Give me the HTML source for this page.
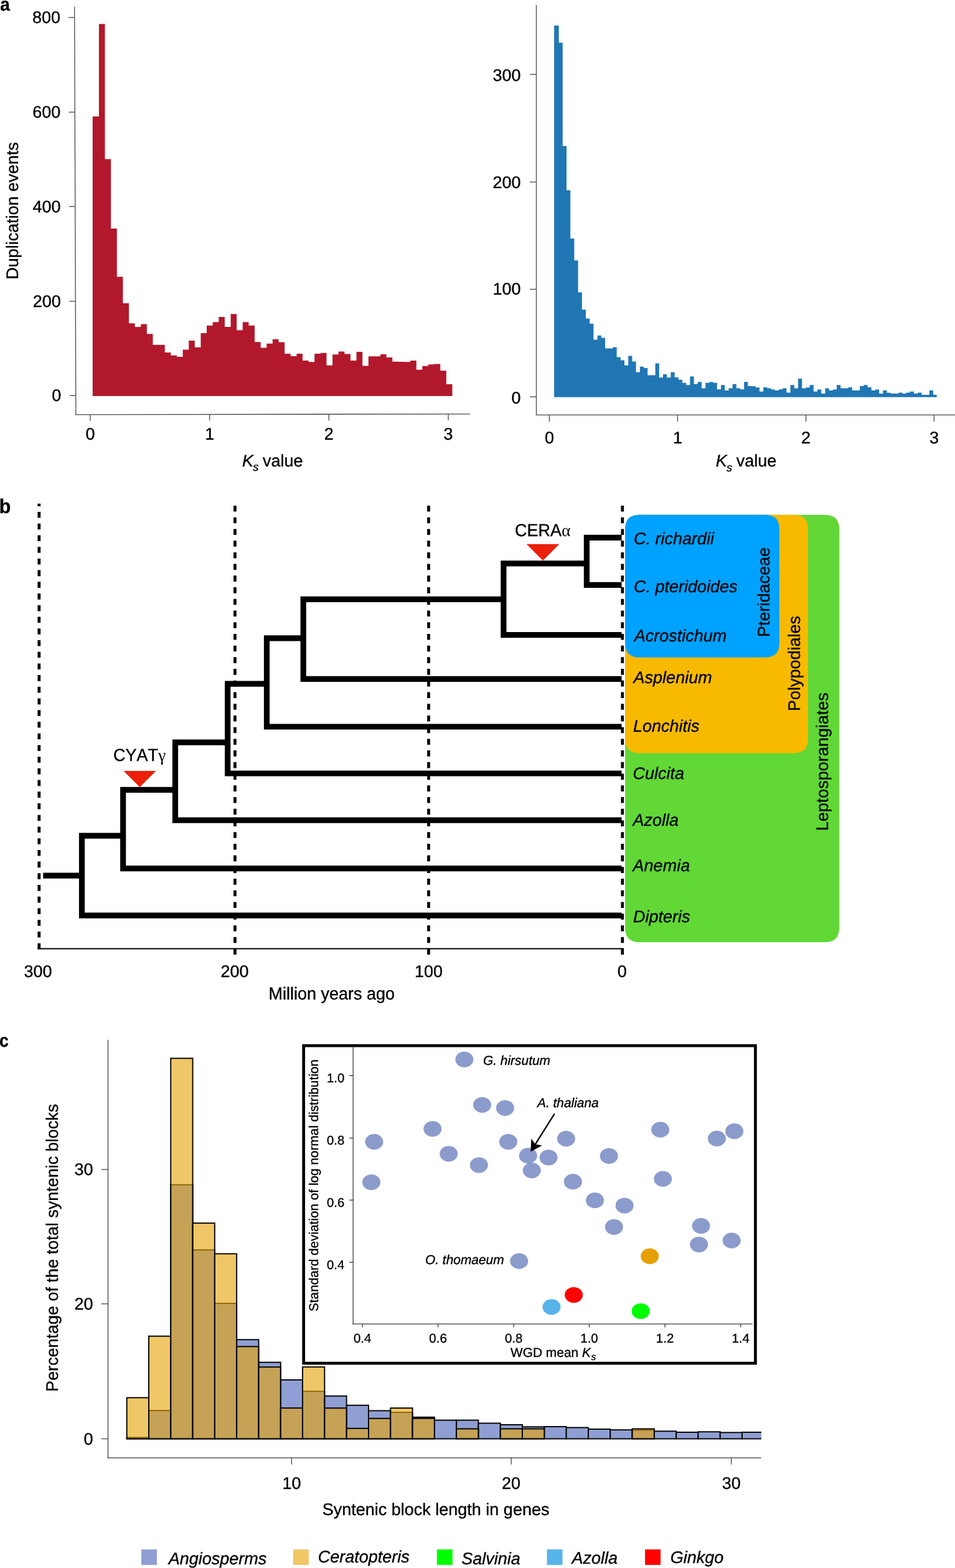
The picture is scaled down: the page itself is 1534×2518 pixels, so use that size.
<!DOCTYPE html>
<html lang="en">
<head>
<meta charset="utf-8">
<title>Figure: Ks distributions, fern phylogeny and syntenic block lengths</title>
<style>
html,body{margin:0;padding:0;background:#fff;}
body{width:1534px;height:2518px;overflow:hidden;}
svg{display:block;}
svg text{font-family:"Liberation Sans", sans-serif;fill:#000;stroke:#000;stroke-width:0.35px;stroke-linejoin:round;font-kerning:none;text-rendering:geometricPrecision;}
</style>
</head>
<body>
<svg width="1534" height="2518" viewBox="0 0 1534 2518">
<rect x="0" y="0" width="1534" height="2518" fill="#fff"/>
<text transform="translate(0.3 17.2) scale(0.95 1)" font-size="29.6" font-weight="bold" stroke-width="0.5">a</text>
<text transform="translate(-1.2 824.4) scale(0.95 1)" font-size="32" font-weight="bold" stroke-width="0.5">b</text>
<text transform="translate(-1.0 1680.9) scale(0.9 1)" font-size="29.6" font-weight="bold" stroke-width="0.5">c</text>
<path d="M148.80 635.90V187.10H158.92V38.40H168.54V255.50H178.16V367.10H187.78V444.50H197.40V486.90H207.02V519.30H216.64V524.90H226.26V520.40H235.88V536.30H245.50V553.70H255.12V553.70H264.74V565.90H274.36V570.70H283.98V573.00H293.60V561.60H303.22V546.90H312.84V557.80H322.46V535.10H332.08V522.70H341.70V517.20H351.32V509.10H360.94V524.90H370.56V504.30H380.18V530.20H389.80V517.20H399.42V522.70H409.04V549.20H418.66V558.50H428.28V551.70H437.90V544.70H447.52V549.40H457.14V568.00H466.76V572.10H476.38V568.00H486.00V578.90H495.62V581.30H505.24V568.00H514.86V566.80H524.48V586.80H534.10V569.30H543.72V564.60H553.34V568.40H562.96V578.90H572.58V565.00H582.20V587.50H591.82V572.30H601.44V572.30H611.06V569.10H620.68V573.90H630.30V580.70H639.92V580.90H649.54V581.30H659.16V579.10H668.78V593.80H678.40V587.70H688.02V585.20H697.64V584.50H707.26V595.20H716.88V617.10H726.50V635.90Z" fill="#B2182B"/>
<line x1="119.70" y1="11.00" x2="121.85" y2="666.30" stroke="#484848" stroke-width="1.3" />
<line x1="121.20" y1="665.80" x2="755.00" y2="664.90" stroke="#484848" stroke-width="1.3" />
<line x1="109.86" y1="28.10" x2="119.76" y2="28.10" stroke="#484848" stroke-width="1.3" />
<text transform="translate(97.00 37.00) scale(1 1)" font-size="27.0" text-anchor="end" >800</text>
<line x1="110.36" y1="180.10" x2="120.26" y2="180.10" stroke="#484848" stroke-width="1.3" />
<text transform="translate(97.30 189.00) scale(1 1)" font-size="27.0" text-anchor="end" >600</text>
<line x1="110.85" y1="331.60" x2="120.75" y2="331.60" stroke="#484848" stroke-width="1.3" />
<text transform="translate(97.60 340.50) scale(1 1)" font-size="27.0" text-anchor="end" >400</text>
<line x1="111.35" y1="483.90" x2="121.25" y2="483.90" stroke="#484848" stroke-width="1.3" />
<text transform="translate(97.90 492.80) scale(1 1)" font-size="27.0" text-anchor="end" >200</text>
<line x1="111.85" y1="635.30" x2="121.75" y2="635.30" stroke="#484848" stroke-width="1.3" />
<text transform="translate(98.20 644.20) scale(1 1)" font-size="27.0" text-anchor="end" >0</text>
<line x1="145.00" y1="665.77" x2="145.00" y2="675.77" stroke="#484848" stroke-width="1.3" />
<text transform="translate(145.00 706.20) scale(1 1)" font-size="27.0" text-anchor="middle" >0</text>
<line x1="336.70" y1="665.49" x2="336.70" y2="675.49" stroke="#484848" stroke-width="1.3" />
<text transform="translate(336.70 706.20) scale(1 1)" font-size="27.0" text-anchor="middle" >1</text>
<line x1="528.30" y1="665.22" x2="528.30" y2="675.22" stroke="#484848" stroke-width="1.3" />
<text transform="translate(528.30 706.20) scale(1 1)" font-size="27.0" text-anchor="middle" >2</text>
<line x1="720.10" y1="664.95" x2="720.10" y2="674.95" stroke="#484848" stroke-width="1.3" />
<text transform="translate(720.10 706.20) scale(1 1)" font-size="27.0" text-anchor="middle" >3</text>
<text transform="translate(388.90 748.50)" font-size="27.0"><tspan font-style="italic">K</tspan><tspan font-style="italic" font-size="18.3" dy="7.2" dx="-0.6">s</tspan><tspan dy="-7.2" dx="-1.0"> value</tspan></text>
<text transform="translate(28.50 448.80) rotate(-90) scale(1 1.0)" font-size="27.0" >Duplication events</text>
<path d="M890.10 637.70V41.00H897.60V68.60H903.80V234.50H910.00V305.40H916.20V383.10H922.40V418.20H928.60V469.40H934.80V497.30H941.00V511.40H947.20V519.70H953.40V545.60H959.60V538.80H965.80V542.40H972.00V559.60H978.20V559.60H984.40V557.60H990.60V573.60H996.80V578.60H1003.00V586.80H1009.20V571.40H1015.40V580.40H1021.60V597.70H1027.80V588.80H1034.00V590.90H1040.20V602.60H1046.40V602.60H1052.60V583.60H1058.80V606.30H1065.00V601.10H1071.20V606.30H1077.40V597.80H1083.60V606.00H1089.80V609.70H1096.00V614.80H1102.20V618.30H1108.40V604.40H1114.60V616.70H1120.80V613.20H1127.00V623.60H1133.20V614.80H1139.40V613.40H1145.60V614.80H1151.80V625.20H1158.00V618.30H1164.20V627.10H1170.40V623.60H1176.60V616.70H1182.80V623.60H1189.00V625.20H1195.20V613.20H1201.40V619.90H1207.60V620.20H1213.80V622.30H1220.00V628.70H1226.20V622.00H1232.40V623.60H1238.60V625.40H1244.80V627.10H1251.00V625.20H1257.20V623.60H1263.40V630.50H1269.60V618.30H1275.80V623.60H1282.00V608.10H1288.20V623.60H1294.40V622.20H1300.60V618.30H1306.80V628.70H1313.00V625.40H1319.20V632.10H1325.40V623.60H1331.60V627.10H1337.80V625.40H1344.00V618.30H1350.20V623.60H1356.40V623.60H1362.60V622.00H1368.80V627.10H1375.00V627.10H1381.20V619.90H1387.40V618.30H1393.60V622.00H1399.80V627.10H1406.00V625.40H1412.20V632.10H1418.40V627.10H1424.60V630.80H1430.80V632.10H1437.00V632.10H1443.20V630.50H1449.40V632.10H1455.60V630.50H1461.80V628.70H1468.00V632.10H1474.20V630.50H1480.40V634.00H1486.60V634.00H1492.80V627.10H1499.00V634.00H1504.60V637.70Z" fill="#2077B4"/>
<line x1="861.50" y1="7.90" x2="861.50" y2="666.90" stroke="#484848" stroke-width="1.3" />
<line x1="861.00" y1="666.40" x2="1534.00" y2="666.40" stroke="#484848" stroke-width="1.3" />
<line x1="851.10" y1="119.50" x2="861.50" y2="119.50" stroke="#484848" stroke-width="1.3" />
<text transform="translate(836.50 130.10) scale(1 1)" font-size="27.0" text-anchor="end" >300</text>
<line x1="851.10" y1="292.40" x2="861.50" y2="292.40" stroke="#484848" stroke-width="1.3" />
<text transform="translate(836.50 301.50) scale(1 1)" font-size="27.0" text-anchor="end" >200</text>
<line x1="851.10" y1="464.50" x2="861.50" y2="464.50" stroke="#484848" stroke-width="1.3" />
<text transform="translate(836.50 473.10) scale(1 1)" font-size="27.0" text-anchor="end" >100</text>
<line x1="851.10" y1="637.30" x2="861.50" y2="637.30" stroke="#484848" stroke-width="1.3" />
<text transform="translate(836.50 647.50) scale(1 1)" font-size="27.0" text-anchor="end" >0</text>
<line x1="882.40" y1="666.40" x2="882.40" y2="677.00" stroke="#484848" stroke-width="1.3" />
<text transform="translate(882.40 711.50) scale(1 1)" font-size="27.0" text-anchor="middle" >0</text>
<line x1="1088.40" y1="666.40" x2="1088.40" y2="677.00" stroke="#484848" stroke-width="1.3" />
<text transform="translate(1088.40 711.50) scale(1 1)" font-size="27.0" text-anchor="middle" >1</text>
<line x1="1294.60" y1="666.40" x2="1294.60" y2="677.00" stroke="#484848" stroke-width="1.3" />
<text transform="translate(1294.60 711.50) scale(1 1)" font-size="27.0" text-anchor="middle" >2</text>
<line x1="1500.40" y1="666.40" x2="1500.40" y2="677.00" stroke="#484848" stroke-width="1.3" />
<text transform="translate(1500.40 711.50) scale(1 1)" font-size="27.0" text-anchor="middle" >3</text>
<text transform="translate(1149.70 749.30)" font-size="27.0"><tspan font-style="italic">K</tspan><tspan font-style="italic" font-size="18.3" dy="7.2" dx="-0.6">s</tspan><tspan dy="-7.2" dx="-1.0"> value</tspan></text>
<path d="M1029.10 826.70H1323.10C1341.10 826.70 1348.10 833.70 1348.10 851.70V1488.10C1348.10 1506.10 1341.10 1513.10 1323.10 1513.10H1029.10C1011.10 1513.10 1004.10 1506.10 1004.10 1488.10V851.70C1004.10 833.70 1011.10 826.70 1029.10 826.70Z" fill="#61D836"/>
<path d="M1029.10 826.70H1272.90C1290.90 826.70 1297.90 833.70 1297.90 851.70V1184.60C1297.90 1202.60 1290.90 1209.60 1272.90 1209.60H1029.10C1011.10 1209.60 1004.10 1202.60 1004.10 1184.60V851.70C1004.10 833.70 1011.10 826.70 1029.10 826.70Z" fill="#F8BA00"/>
<path d="M1029.10 826.70H1226.90C1244.90 826.70 1251.90 833.70 1251.90 851.70V1030.80C1251.90 1048.80 1244.90 1055.80 1226.90 1055.80H1029.10C1011.10 1055.80 1004.10 1048.80 1004.10 1030.80V851.70C1004.10 833.70 1011.10 826.70 1029.10 826.70Z" fill="#00A2FF"/>
<path d="M942.40 863.40H998.50M942.40 939.30H998.50M942.40 858.80V943.90M808.90 904.80H942.40M808.90 1019.70H998.50M808.90 900.20V1024.30M487.20 962.30H808.90M487.20 1090.40H998.50M487.20 957.70V1095.00M428.50 1024.80H487.20M428.50 1167.00H998.50M428.50 1020.20V1171.60M365.70 1098.20H428.50M365.70 1242.00H998.50M365.70 1093.60V1246.60M281.50 1192.20H365.70M281.50 1317.20H998.50M281.50 1187.60V1321.80M197.70 1268.40H281.50M197.70 1394.60H998.50M197.70 1263.80V1399.20M131.50 1342.20H197.70M131.50 1470.20H998.50M131.50 1337.60V1474.80M69.30 1406.20H131.50" fill="none" stroke="#000" stroke-width="9.2"/>
<line x1="62.8" y1="808.7" x2="62.8" y2="1524.5" stroke="#000" stroke-width="4.7" stroke-dasharray="9.6 9.12" stroke-dashoffset="5.4"/>
<line x1="377.45" y1="812.0" x2="377.45" y2="1533.0" stroke="#000" stroke-width="4.7" stroke-dasharray="9.6 9.12" stroke-dashoffset="0"/>
<line x1="688.5" y1="812.0" x2="688.5" y2="1533.0" stroke="#000" stroke-width="4.7" stroke-dasharray="9.6 9.12" stroke-dashoffset="0"/>
<line x1="999.8" y1="812.0" x2="999.8" y2="1533.0" stroke="#000" stroke-width="4.7" stroke-dasharray="9.6 9.12" stroke-dashoffset="0"/>
<line x1="60.60" y1="1523.60" x2="1001.90" y2="1523.60" stroke="#000" stroke-width="2" />
<text transform="translate(61.00 1569.40) scale(1 1)" font-size="27.0" text-anchor="middle" >300</text>
<text transform="translate(377.10 1569.40) scale(1 1)" font-size="27.0" text-anchor="middle" >200</text>
<text transform="translate(688.50 1569.40) scale(1 1)" font-size="27.0" text-anchor="middle" >100</text>
<text transform="translate(999.30 1569.40) scale(1 1)" font-size="27.0" text-anchor="middle" >0</text>
<text transform="translate(431.50 1605.20) scale(1 1.03)" font-size="27.0" >Million years ago</text>
<polygon points="845.7,873.8 898.4,873.8 872.1,900.2" fill="#EA200B"/>
<polygon points="198.5,1237.9 250.5,1237.9 224.5,1263.9" fill="#EA200B"/>
<text transform="translate(827.0 860.6) scale(1 1.04)" font-size="27.0">CERA<tspan font-family="'Liberation Serif', serif" font-size="27" dx="0.3" stroke="none">α</tspan></text>
<text transform="translate(182.0 1221.8) scale(1 1.04)" font-size="27.0">CYAT<tspan font-family="'Liberation Serif', serif" font-size="27" dx="0.3" stroke="none">γ</tspan></text>
<text transform="translate(1018.00 874.20) scale(1 1.0)" font-size="27.0" font-style="italic" >C. richardii</text>
<text transform="translate(1018.00 951.10) scale(1 1.0)" font-size="27.0" font-style="italic" >C. pteridoides</text>
<text transform="translate(1018.70 1029.70) scale(1 1.0)" font-size="27.0" font-style="italic" >Acrostichum</text>
<text transform="translate(1017.60 1097.40) scale(1 1.0)" font-size="27.0" font-style="italic" >Asplenium</text>
<text transform="translate(1017.00 1174.90) scale(1 1.0)" font-size="27.0" font-style="italic" >Lonchitis</text>
<text transform="translate(1016.60 1251.10) scale(1 1.0)" font-size="27.0" font-style="italic" >Culcita</text>
<text transform="translate(1016.60 1326.30) scale(1 1.0)" font-size="27.0" font-style="italic" >Azolla</text>
<text transform="translate(1016.60 1398.80) scale(1 1.0)" font-size="27.0" font-style="italic" >Anemia</text>
<text transform="translate(1017.00 1481.30) scale(1 1.0)" font-size="27.0" font-style="italic" >Dipteris</text>
<text transform="translate(1236.20 1023.00) rotate(-90) scale(1 1.0)" font-size="27.0" >Pteridaceae</text>
<text transform="translate(1284.60 1142.10) rotate(-90) scale(1 1.0)" font-size="27.0" >Polypodiales</text>
<text transform="translate(1330.30 1334.30) rotate(-90) scale(1 1.0)" font-size="27.0" >Leptosporangiates</text>
<clipPath id="cc"><rect x="170" y="1660" width="1053.0" height="700"/></clipPath>
<g clip-path="url(#cc)">
<rect x="203.65" y="2308.40" width="35.30" height="2.10" fill="#8F9FD3" stroke="#000" stroke-width="1.9"/>
<rect x="238.95" y="2265.20" width="35.30" height="45.30" fill="#8F9FD3" stroke="#000" stroke-width="1.9"/>
<rect x="274.25" y="1902.60" width="35.30" height="407.90" fill="#8F9FD3" stroke="#000" stroke-width="1.9"/>
<rect x="309.55" y="2007.20" width="35.30" height="303.30" fill="#8F9FD3" stroke="#000" stroke-width="1.9"/>
<rect x="344.85" y="2093.10" width="35.30" height="217.40" fill="#8F9FD3" stroke="#000" stroke-width="1.9"/>
<rect x="380.15" y="2151.30" width="35.30" height="159.20" fill="#8F9FD3" stroke="#000" stroke-width="1.9"/>
<rect x="415.45" y="2187.70" width="35.30" height="122.80" fill="#8F9FD3" stroke="#000" stroke-width="1.9"/>
<rect x="450.75" y="2215.90" width="35.30" height="94.60" fill="#8F9FD3" stroke="#000" stroke-width="1.9"/>
<rect x="486.05" y="2234.30" width="35.30" height="76.20" fill="#8F9FD3" stroke="#000" stroke-width="1.9"/>
<rect x="521.35" y="2241.80" width="35.30" height="68.70" fill="#8F9FD3" stroke="#000" stroke-width="1.9"/>
<rect x="556.65" y="2256.70" width="35.30" height="53.80" fill="#8F9FD3" stroke="#000" stroke-width="1.9"/>
<rect x="591.95" y="2265.40" width="35.30" height="45.10" fill="#8F9FD3" stroke="#000" stroke-width="1.9"/>
<rect x="627.25" y="2268.10" width="35.30" height="42.40" fill="#8F9FD3" stroke="#000" stroke-width="1.9"/>
<rect x="662.55" y="2275.80" width="35.30" height="34.70" fill="#8F9FD3" stroke="#000" stroke-width="1.9"/>
<rect x="697.85" y="2280.60" width="35.30" height="29.90" fill="#8F9FD3" stroke="#000" stroke-width="1.9"/>
<rect x="733.15" y="2280.60" width="35.30" height="29.90" fill="#8F9FD3" stroke="#000" stroke-width="1.9"/>
<rect x="768.45" y="2285.50" width="35.30" height="25.00" fill="#8F9FD3" stroke="#000" stroke-width="1.9"/>
<rect x="803.75" y="2287.90" width="35.30" height="22.60" fill="#8F9FD3" stroke="#000" stroke-width="1.9"/>
<rect x="839.05" y="2291.30" width="35.30" height="19.20" fill="#8F9FD3" stroke="#000" stroke-width="1.9"/>
<rect x="874.35" y="2291.00" width="35.30" height="19.50" fill="#8F9FD3" stroke="#000" stroke-width="1.9"/>
<rect x="909.65" y="2292.50" width="35.30" height="18.00" fill="#8F9FD3" stroke="#000" stroke-width="1.9"/>
<rect x="944.95" y="2295.00" width="35.30" height="15.50" fill="#8F9FD3" stroke="#000" stroke-width="1.9"/>
<rect x="980.25" y="2296.20" width="35.30" height="14.30" fill="#8F9FD3" stroke="#000" stroke-width="1.9"/>
<rect x="1015.55" y="2296.50" width="35.30" height="14.00" fill="#8F9FD3" stroke="#000" stroke-width="1.9"/>
<rect x="1050.85" y="2298.30" width="35.30" height="12.20" fill="#8F9FD3" stroke="#000" stroke-width="1.9"/>
<rect x="1086.15" y="2300.00" width="35.30" height="10.50" fill="#8F9FD3" stroke="#000" stroke-width="1.9"/>
<rect x="1121.45" y="2299.30" width="35.30" height="11.20" fill="#8F9FD3" stroke="#000" stroke-width="1.9"/>
<rect x="1156.75" y="2300.40" width="35.30" height="10.10" fill="#8F9FD3" stroke="#000" stroke-width="1.9"/>
<rect x="1192.05" y="2300.00" width="35.30" height="10.50" fill="#8F9FD3" stroke="#000" stroke-width="1.9"/>
<rect x="203.65" y="2244.50" width="35.30" height="66.00" fill="#E7A406" fill-opacity="0.615" stroke="#000" stroke-width="1.9"/>
<rect x="238.95" y="2145.70" width="35.30" height="164.80" fill="#E7A406" fill-opacity="0.615" stroke="#000" stroke-width="1.9"/>
<rect x="274.25" y="1699.50" width="35.30" height="611.00" fill="#E7A406" fill-opacity="0.615" stroke="#000" stroke-width="1.9"/>
<rect x="309.55" y="1964.20" width="35.30" height="346.30" fill="#E7A406" fill-opacity="0.615" stroke="#000" stroke-width="1.9"/>
<rect x="344.85" y="2013.40" width="35.30" height="297.10" fill="#E7A406" fill-opacity="0.615" stroke="#000" stroke-width="1.9"/>
<rect x="380.15" y="2162.40" width="35.30" height="148.10" fill="#E7A406" fill-opacity="0.615" stroke="#000" stroke-width="1.9"/>
<rect x="415.45" y="2195.30" width="35.30" height="115.20" fill="#E7A406" fill-opacity="0.615" stroke="#000" stroke-width="1.9"/>
<rect x="450.75" y="2261.10" width="35.30" height="49.40" fill="#E7A406" fill-opacity="0.615" stroke="#000" stroke-width="1.9"/>
<rect x="486.05" y="2195.20" width="35.30" height="115.30" fill="#E7A406" fill-opacity="0.615" stroke="#000" stroke-width="1.9"/>
<rect x="521.35" y="2261.20" width="35.30" height="49.30" fill="#E7A406" fill-opacity="0.615" stroke="#000" stroke-width="1.9"/>
<rect x="556.65" y="2293.80" width="35.30" height="16.70" fill="#E7A406" fill-opacity="0.615" stroke="#000" stroke-width="1.9"/>
<rect x="591.95" y="2277.80" width="35.30" height="32.70" fill="#E7A406" fill-opacity="0.615" stroke="#000" stroke-width="1.9"/>
<rect x="627.25" y="2261.20" width="35.30" height="49.30" fill="#E7A406" fill-opacity="0.615" stroke="#000" stroke-width="1.9"/>
<rect x="662.55" y="2277.80" width="35.30" height="32.70" fill="#E7A406" fill-opacity="0.615" stroke="#000" stroke-width="1.9"/>
<rect x="733.15" y="2294.50" width="35.30" height="16.00" fill="#E7A406" fill-opacity="0.615" stroke="#000" stroke-width="1.9"/>
<rect x="803.75" y="2294.50" width="35.30" height="16.00" fill="#E7A406" fill-opacity="0.615" stroke="#000" stroke-width="1.9"/>
<rect x="839.05" y="2294.50" width="35.30" height="16.00" fill="#E7A406" fill-opacity="0.615" stroke="#000" stroke-width="1.9"/>
<rect x="1015.55" y="2294.50" width="35.30" height="16.00" fill="#E7A406" fill-opacity="0.615" stroke="#000" stroke-width="1.9"/>
</g>
<line x1="173.50" y1="1669.70" x2="173.50" y2="2341.70" stroke="#3a3a3a" stroke-width="1.2" />
<line x1="172.90" y1="2341.10" x2="1222.60" y2="2341.10" stroke="#3a3a3a" stroke-width="1.2" />
<line x1="162.80" y1="1878.00" x2="173.50" y2="1878.00" stroke="#3a3a3a" stroke-width="1.2" />
<text transform="translate(149.50 1887.30) scale(1 1)" font-size="27.0" text-anchor="end" >30</text>
<line x1="162.80" y1="2093.80" x2="173.50" y2="2093.80" stroke="#3a3a3a" stroke-width="1.2" />
<text transform="translate(149.50 2103.10) scale(1 1)" font-size="27.0" text-anchor="end" >20</text>
<line x1="162.80" y1="2310.50" x2="173.50" y2="2310.50" stroke="#3a3a3a" stroke-width="1.2" />
<text transform="translate(149.50 2319.80) scale(1 1)" font-size="27.0" text-anchor="end" >0</text>
<line x1="468.40" y1="2341.10" x2="468.40" y2="2351.70" stroke="#3a3a3a" stroke-width="1.2" />
<text transform="translate(468.40 2391.40) scale(1 1)" font-size="27.0" text-anchor="middle" >10</text>
<line x1="821.10" y1="2341.10" x2="821.10" y2="2351.70" stroke="#3a3a3a" stroke-width="1.2" />
<text transform="translate(821.10 2391.40) scale(1 1)" font-size="27.0" text-anchor="middle" >20</text>
<line x1="1174.70" y1="2341.10" x2="1174.70" y2="2351.70" stroke="#3a3a3a" stroke-width="1.2" />
<text transform="translate(1174.70 2391.40) scale(1 1)" font-size="27.0" text-anchor="middle" >30</text>
<text transform="translate(517.70 2433.20) scale(1 1.0)" font-size="27.0" >Syntenic block length in genes</text>
<text transform="translate(93.40 2235.00) rotate(-90) scale(1 1.0)" font-size="27.0" >Percentage of the total syntenic blocks</text>
<rect x="487.7" y="1679.2" width="725.7" height="510.0" fill="#fff" stroke="#000" stroke-width="4.7"/>
<line x1="567.20" y1="1681.50" x2="567.20" y2="2126.70" stroke="#3c3c3c" stroke-width="1.3" />
<line x1="566.50" y1="2126.20" x2="1208.80" y2="2126.20" stroke="#3c3c3c" stroke-width="1.3" />
<line x1="561.20" y1="1727.30" x2="567.20" y2="1727.30" stroke="#333" stroke-width="1.3" />
<text transform="translate(553.20 1737.80) scale(1 1)" font-size="20.3" text-anchor="end" >1.0</text>
<line x1="561.20" y1="1827.60" x2="567.20" y2="1827.60" stroke="#333" stroke-width="1.3" />
<text transform="translate(553.20 1838.10) scale(1 1)" font-size="20.3" text-anchor="end" >0.8</text>
<line x1="561.20" y1="1927.20" x2="567.20" y2="1927.20" stroke="#333" stroke-width="1.3" />
<text transform="translate(553.20 1937.70) scale(1 1)" font-size="20.3" text-anchor="end" >0.6</text>
<line x1="561.20" y1="2027.10" x2="567.20" y2="2027.10" stroke="#333" stroke-width="1.3" />
<text transform="translate(553.20 2037.60) scale(1 1)" font-size="20.3" text-anchor="end" >0.4</text>
<line x1="582.20" y1="2126.00" x2="582.20" y2="2131.40" stroke="#333" stroke-width="1.3" />
<text transform="translate(582.20 2156.00) scale(1 1)" font-size="20.5" text-anchor="middle" >0.4</text>
<line x1="703.60" y1="2126.00" x2="703.60" y2="2131.40" stroke="#333" stroke-width="1.3" />
<text transform="translate(703.60 2156.00) scale(1 1)" font-size="20.5" text-anchor="middle" >0.6</text>
<line x1="825.20" y1="2126.00" x2="825.20" y2="2131.40" stroke="#333" stroke-width="1.3" />
<text transform="translate(825.20 2156.00) scale(1 1)" font-size="20.5" text-anchor="middle" >0.8</text>
<line x1="946.50" y1="2126.00" x2="946.50" y2="2131.40" stroke="#333" stroke-width="1.3" />
<text transform="translate(946.50 2156.00) scale(1 1)" font-size="20.5" text-anchor="middle" >1.0</text>
<line x1="1068.10" y1="2126.00" x2="1068.10" y2="2131.40" stroke="#333" stroke-width="1.3" />
<text transform="translate(1068.10 2156.00) scale(1 1)" font-size="20.5" text-anchor="middle" >1.2</text>
<line x1="1189.70" y1="2126.00" x2="1189.70" y2="2131.40" stroke="#333" stroke-width="1.3" />
<text transform="translate(1189.70 2156.00) scale(1 1)" font-size="20.5" text-anchor="middle" >1.4</text>
<text transform="translate(820.0 2179.3) scale(1 1.0)" font-size="20.9">WGD mean <tspan font-style="italic">K</tspan><tspan font-style="italic" font-size="15.5" dy="5" dx="0.6">s</tspan></text>
<text transform="translate(511.20 2106.00) rotate(-90) scale(1 1.0)" font-size="20.75" >Standard deviation of log normal distribution</text>
<ellipse cx="745.9" cy="1701.3" rx="14.5" ry="12.6" fill="#8B9BCC"/>
<ellipse cx="774.5" cy="1774.3" rx="14.5" ry="12.6" fill="#8B9BCC"/>
<ellipse cx="811.4" cy="1779.3" rx="14.5" ry="12.6" fill="#8B9BCC"/>
<ellipse cx="694.8" cy="1812.8" rx="14.5" ry="12.6" fill="#8B9BCC"/>
<ellipse cx="601.0" cy="1833.6" rx="14.5" ry="12.6" fill="#8B9BCC"/>
<ellipse cx="816.4" cy="1833.6" rx="14.5" ry="12.6" fill="#8B9BCC"/>
<ellipse cx="720.7" cy="1852.8" rx="14.5" ry="12.6" fill="#8B9BCC"/>
<ellipse cx="769.3" cy="1871.0" rx="14.5" ry="12.6" fill="#8B9BCC"/>
<ellipse cx="596.5" cy="1898.5" rx="14.5" ry="12.6" fill="#8B9BCC"/>
<ellipse cx="848.3" cy="1855.9" rx="14.5" ry="12.6" fill="#8B9BCC"/>
<ellipse cx="854.2" cy="1879.6" rx="14.5" ry="12.6" fill="#8B9BCC"/>
<ellipse cx="881.1" cy="1858.8" rx="14.5" ry="12.6" fill="#8B9BCC"/>
<ellipse cx="909.4" cy="1828.6" rx="14.5" ry="12.6" fill="#8B9BCC"/>
<ellipse cx="920.3" cy="1897.7" rx="14.5" ry="12.6" fill="#8B9BCC"/>
<ellipse cx="978.2" cy="1856.4" rx="14.5" ry="12.6" fill="#8B9BCC"/>
<ellipse cx="1060.6" cy="1814.1" rx="14.5" ry="12.6" fill="#8B9BCC"/>
<ellipse cx="1064.8" cy="1893.1" rx="14.5" ry="12.6" fill="#8B9BCC"/>
<ellipse cx="1151.5" cy="1828.4" rx="14.5" ry="12.6" fill="#8B9BCC"/>
<ellipse cx="1179.6" cy="1816.7" rx="14.5" ry="12.6" fill="#8B9BCC"/>
<ellipse cx="955.6" cy="1927.7" rx="14.5" ry="12.6" fill="#8B9BCC"/>
<ellipse cx="1003.2" cy="1936.0" rx="14.5" ry="12.6" fill="#8B9BCC"/>
<ellipse cx="986.3" cy="1970.4" rx="14.5" ry="12.6" fill="#8B9BCC"/>
<ellipse cx="1126.1" cy="1968.6" rx="14.5" ry="12.6" fill="#8B9BCC"/>
<ellipse cx="1122.7" cy="1998.5" rx="14.5" ry="12.6" fill="#8B9BCC"/>
<ellipse cx="1175.2" cy="1992.2" rx="14.5" ry="12.6" fill="#8B9BCC"/>
<ellipse cx="833.8" cy="2025.2" rx="14.5" ry="12.6" fill="#8B9BCC"/>
<ellipse cx="1043.7" cy="2017.4" rx="14.5" ry="12.6" fill="#E69F00"/>
<ellipse cx="921.6" cy="2079.5" rx="14.5" ry="12.6" fill="#FF0000"/>
<ellipse cx="886.0" cy="2098.8" rx="14.5" ry="12.6" fill="#56B4E9"/>
<ellipse cx="1029.2" cy="2105.5" rx="14.5" ry="12.6" fill="#00FF00"/>
<text transform="translate(776.00 1709.90) scale(1 1.0)" font-size="20.9" font-style="italic" >G. hirsutum</text>
<text transform="translate(863.00 1778.20) scale(1 1.0)" font-size="20.9" font-style="italic" >A. thaliana</text>
<text transform="translate(683.00 2029.90) scale(1 1.0)" font-size="20.9" font-style="italic" >O. thomaeum</text>
<line x1="890.60" y1="1788.60" x2="859.37" y2="1838.34" stroke="#000" stroke-width="2.3" />
<polygon points="852.30,1849.60 853.45,1828.59 859.90,1837.49 870.72,1839.44" fill="#000"/>
<rect x="227.00" y="2488.20" width="25.00" height="24.90" fill="#8F9FD3" />
<text transform="translate(270.70 2511.70) scale(1 1.0)" font-size="27.0" font-style="italic" >Angiosperms</text>
<rect x="470.90" y="2488.20" width="25.00" height="24.90" fill="#F0C766" />
<text transform="translate(510.70 2508.90) scale(1 1.0)" font-size="27.0" font-style="italic" >Ceratopteris</text>
<rect x="701.80" y="2488.20" width="25.00" height="24.90" fill="#00FF00" />
<text transform="translate(741.20 2512.20) scale(1 1.0)" font-size="27.0" font-style="italic" >Salvinia</text>
<rect x="878.50" y="2488.20" width="25.00" height="24.90" fill="#56B4E9" />
<text transform="translate(918.50 2510.70) scale(1 1.0)" font-size="27.0" font-style="italic" >Azolla</text>
<rect x="1036.10" y="2488.20" width="25.00" height="24.90" fill="#FF0000" />
<text transform="translate(1076.70 2510.00) scale(1 1.0)" font-size="27.0" font-style="italic" >Ginkgo</text>
</svg>
</body>
</html>
